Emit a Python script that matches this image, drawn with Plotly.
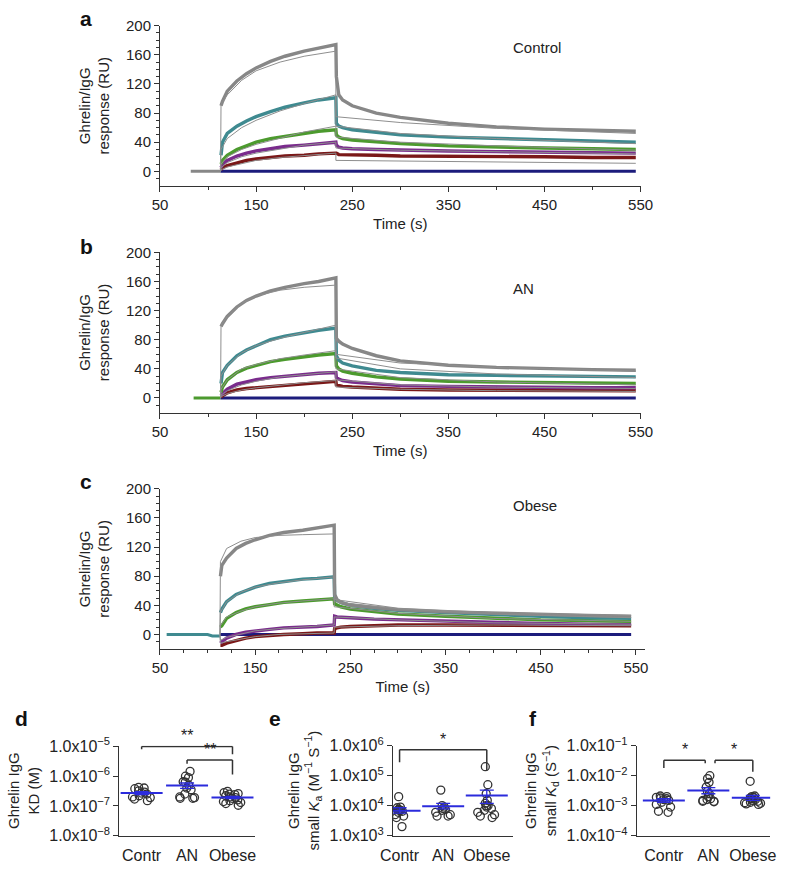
import math
import plotly.graph_objects as go

# ---------------- sensorgram data ----------------
T_ASSOC = [113.5, 115, 120, 130, 140, 150, 165, 180, 200, 215, 233]
T_DISS = [233.5, 236, 240, 250, 275, 300, 350, 400, 450, 500, 545]
T_FIT_ASSOC = [113, 113.5, 120, 135, 150, 175, 200, 233]
T_FIT_DISS = [233, 300, 400, 545]
T_NAVY = [113, 545]
NAVY_V = [0, 0]

# panel a: Control
A_BASE_T = [82, 113]
A_BASE_V = [0, 0]
A_GRAY = [90, 96, 110, 124, 134, 142, 151, 158, 165, 169, 174]
A_GRAY_D = [130, 105, 98, 90, 80, 74, 66, 61, 58, 56, 55]
A_TEAL = [22, 40, 52, 62, 69, 75, 82, 88, 94, 98, 101]
A_TEAL_D = [66, 62, 60, 57, 53, 50, 47, 45, 43, 41, 40]
A_GREEN = [10, 15, 22, 30, 35, 40, 45, 48, 52, 55, 57]
A_GREEN_D = [50, 47, 45, 43, 40, 38, 35, 33, 32, 31, 30]
A_PURPLE = [5, 10, 15, 21, 25, 28, 31, 34, 36, 38, 40]
A_PURPLE_D = [36, 33, 32, 31, 30, 29, 28, 27, 26, 25, 25]
A_MAROON = [2, 5, 8, 12, 15, 17, 19, 21, 22, 24, 25]
A_MAROON_D = [25, 23, 23, 22, 22, 21, 21, 20, 20, 19, 19]
A_FIT_GRAY = [0, 92, 105, 125, 138, 150, 158, 165]
A_FIT_GRAY_D = [75, 67, 59, 52]
A_FIT_TEAL = [0, 30, 45, 60, 70, 83, 93, 105]
A_FIT_TEAL_D = [62, 52, 45, 38]
A_FIT_GREEN = [0, 10, 20, 30, 37, 46, 54, 62]
A_FIT_GREEN_D = [47, 40, 35, 29]
A_FIT_PURPLE = [0, 5, 12, 20, 25, 31, 36, 40]
A_FIT_PURPLE_D = [32, 29, 27, 24]
A_FIT_MAROON = [0, 2, 6, 11, 15, 19, 22, 25]
A_FIT_MAROON_D = [15, 14, 12.5, 11]

# panel b: AN
B_BASE_T = [85, 113]
B_BASE_V = [0, 0]
B_GRAY = [98, 102, 112, 125, 134, 140, 147, 152, 157, 160, 165]
B_GRAY_D = [82, 78, 74, 68, 58, 51, 45, 42, 40, 39, 38]
B_TEAL = [20, 35, 45, 58, 66, 72, 80, 85, 90, 93, 96]
B_TEAL_D = [58, 52, 48, 44, 38, 35, 32, 31, 30, 29, 29]
B_GREEN = [8, 15, 25, 35, 41, 45, 50, 53, 57, 59, 61]
B_GREEN_D = [44, 40, 37, 34, 29, 26, 23, 22, 21, 20, 20]
B_PURPLE = [3, 6, 12, 19, 22, 25, 28, 30, 32, 34, 35]
B_PURPLE_D = [28, 26, 24, 22, 19, 17, 16, 15, 14, 14, 14]
B_MAROON = [1, 3, 7, 11, 13, 14, 16, 18, 20, 21, 23]
B_MAROON_D = [18, 17, 16, 15, 13, 12, 11, 11, 10, 10, 10]
B_FIT_GRAY = [0, 100, 112, 130, 140, 148, 152, 155]
B_FIT_GRAY_D = [60, 48, 42, 37]
B_FIT_TEAL = [0, 30, 45, 62, 72, 82, 90, 100]
B_FIT_TEAL_D = [55, 40, 33, 28]
B_FIT_GREEN = [0, 12, 25, 40, 46, 54, 59, 65]
B_FIT_GREEN_D = [40, 28, 22, 18]
B_FIT_PURPLE = [0, 4, 10, 18, 23, 29, 32, 36]
B_FIT_PURPLE_D = [25, 18, 15, 13]
B_FIT_MAROON = [0, 2, 6, 11, 14, 18, 21, 24]
B_FIT_MAROON_D = [15, 12, 10, 9]

# panel c: Obese
C_BASE_T = [57, 100, 105, 113]
C_BASE_V = [0, 0, -2, -2]
C_GRAY = [80, 95, 105, 118, 125, 130, 136, 140, 143, 146, 150]
C_GRAY_D = [55, 48, 44, 40, 37, 34, 31, 29, 27, 26, 25]
C_TEAL = [30, 35, 45, 55, 60, 65, 70, 73, 76, 77, 79]
C_TEAL_D = [52, 47, 44, 40, 36, 33, 30, 27, 25, 23, 22]
C_GREEN = [10, 12, 22, 30, 35, 38, 41, 44, 46, 47, 49]
C_GREEN_D = [42, 40, 38, 35, 31, 28, 25, 22, 20, 19, 18]
C_PURPLE = [-12, -10, -5, 0, 3, 5, 7, 9, 10, 11, 13]
C_PURPLE_D = [25, 24, 24, 23, 21, 20, 18, 16, 15, 14, 14]
C_MAROON = [-15, -15, -12, -8, -5, -3, -1, 0, 1, 2, 2]
C_MAROON_D = [8, 9, 10, 11, 12, 13, 13, 13, 13, 12, 12]
C_FIT_GRAY = [0, 100, 118, 128, 133, 136, 137, 138]
C_FIT_GRAY_D = [48, 36, 30, 26]
C_FIT_TEAL = [0, 30, 45, 58, 65, 71, 75, 79]
C_FIT_TEAL_D = [45, 35, 28, 23]
C_FIT_GREEN = [0, 12, 24, 32, 38, 43, 46, 49]
C_FIT_GREEN_D = [38, 29, 22, 18]
C_FIT_PURPLE = [0, -8, -4, 1, 5, 8, 10, 13]
C_FIT_PURPLE_D = [24, 20, 16, 14]
C_FIT_MAROON = [0, -12, -10, -6, -3, 0, 1, 2]
C_FIT_MAROON_D = [10, 12, 13, 12]

X_TICKS = [50, 150, 250, 350, 450, 550]
X_MINOR_AB = [100, 200, 300, 400, 500]
X_MINOR_C = [75, 100, 125, 175, 200, 225, 275, 300, 325, 375, 400, 425, 475, 500, 525]
X_RANGES = [[50, 550], [50, 550], [50, 560]]
Y_TICKS = [0, 40, 80, 120, 160, 200]
Y_MINOR = [-10, 10, 20, 30, 50, 60, 70, 90, 100, 110, 130, 140, 150, 170, 180, 190]
GROUP_LABELS = ["Control", "AN", "Obese"]
GROUP_LABEL_T = [442, 428, 444]
GROUP_LABEL_V = [170, 151, 177]

# ---------------- scatter data ----------------
CATS = ["Contr", "AN", "Obese"]
D_CONTR = [4.2e-7, 4.0e-7, 3.8e-7, 3.2e-7, 2.9e-7, 2.7e-7, 2.5e-7, 2.2e-7, 2.0e-7, 1.9e-7, 1.7e-7, 1.5e-7]
D_AN = [1.45e-6, 1.0e-6, 9.0e-7, 6.5e-7, 6.3e-7, 5.0e-7, 4.0e-7, 3.5e-7, 2.5e-7, 2.0e-7, 1.9e-7, 1.8e-7, 1.8e-7]
D_OBESE = [3.1e-7, 2.8e-7, 2.6e-7, 2.5e-7, 2.4e-7, 2.2e-7, 2.0e-7, 1.9e-7, 1.8e-7, 1.6e-7, 1.5e-7, 1.4e-7, 1.3e-7, 1.2e-7, 1.05e-7]
D_MEAN = [2.7e-7, 4.9e-7, 1.9e-7]
D_SEM_HI = [3.0e-7, 5.9e-7, 2.1e-7]
D_SEM_LO = [2.4e-7, 3.9e-7, 1.75e-7]

E_CONTR = [2.0e4, 9e3, 8.5e3, 7.5e3, 7e3, 7e3, 6.5e3, 6e3, 5e3, 4.5e3, 4e3, 2.0e3]
E_AN = [3.3e4, 1.0e4, 9e3, 8e3, 7.5e3, 7e3, 6e3, 5e3, 4.5e3, 4.5e3]
E_OBESE = [2.0e5, 5e4, 2.5e4, 1.5e4, 1.2e4, 1.0e4, 1.0e4, 9e3, 8e3, 7e3, 6e3, 5e3, 4.5e3, 4e3]
E_MEAN = [6.8e3, 9.5e3, 2.2e4]
E_SEM_HI = [8.5e3, 1.2e4, 3.3e4]
E_SEM_LO = [5.6e3, 7.8e3, 1.2e4]

F_CONTR = [2.1e-3, 2.0e-3, 1.9e-3, 1.8e-3, 1.7e-3, 1.6e-3, 1.5e-3, 1.3e-3, 1.1e-3, 0.9e-3, 0.65e-3, 0.6e-3]
F_AN = [1.0e-2, 8e-3, 6e-3, 4.2e-3, 3e-3, 2.5e-3, 2.0e-3, 1.7e-3, 1.6e-3, 1.5e-3, 1.4e-3, 1.4e-3, 1.35e-3]
F_OBESE = [6.5e-3, 2.1e-3, 2.0e-3, 1.9e-3, 1.8e-3, 1.7e-3, 1.6e-3, 1.5e-3, 1.4e-3, 1.3e-3, 1.25e-3, 1.2e-3, 1.15e-3, 1.1e-3]
F_MEAN = [1.5e-3, 3.2e-3, 1.85e-3]
F_SEM_HI = [1.7e-3, 4.0e-3, 2.2e-3]
F_SEM_LO = [1.3e-3, 2.5e-3, 1.5e-3]

D_TICKS = [1e-8, 1e-7, 1e-6, 1e-5]
D_TICKTEXT = ["1.0x10<sup>\u22128</sup>", "1.0x10<sup>\u22127</sup>", "1.0x10<sup>\u22126</sup>", "1.0x10<sup>\u22125</sup>"]
E_TICKS = [1e3, 1e4, 1e5, 1e6]
E_TICKTEXT = ["1.0x10<sup>3</sup>", "1.0x10<sup>4</sup>", "1.0x10<sup>5</sup>", "1.0x10<sup>6</sup>"]
F_TICKS = [1e-4, 1e-3, 1e-2, 1e-1]
F_TICKTEXT = ["1.0x10<sup>\u22124</sup>", "1.0x10<sup>\u22123</sup>", "1.0x10<sup>\u22122</sup>", "1.0x10<sup>\u22121</sup>"]

# significance brackets: (left cat idx, right cat idx, top, left leg end, right leg end, stars)
D_BRACKETS = [(0, 2, 1e-5, 8e-6, 5.5e-6, "**"), (1, 2, 3.5e-6, 2.6e-6, 1.15e-6, "**")]
E_BRACKETS = [(0, 2, 7.4e5, 2.8e5, 1.45e5, "*")]
F_BRACKETS = [(0, 0.93, 3.3e-2, 1.8e-2, 2.6e-2, "*"), (1.15, 2, 3.3e-2, 2.6e-2, 1.35e-2, "*")]

# ---------------- style ----------------
FONT = "Liberation Sans, Arial, Helvetica, sans-serif"
INK = "#222222"
AXC = "#333333"
COL_GRAY = "#878787"
COL_TEAL = "#3f8a90"
COL_GREEN = "#4c9a2e"
COL_PURPLE = "#7a2c8c"
COL_MAROON = "#7a1818"
COL_NAVY = "#1c1c7c"
COL_FIT = "#8e8e8e"
BLUE = "#2b2bdc"

W, H = 788, 871
TOP_X = [[152 / W, 649 / W], [152 / W, 649 / W], [152 / W, 654 / W]]
TOP_Y = [[1 - 179 / H, 1 - 15 / H], [1 - 411 / H, 1 - 247 / H], [1 - 653 / H, 1 - 489 / H]]
BOT_Y = [1 - 844 / H, 1 - 752 / H]
BOT_X = [[110 / W, 250 / W], [393 / W, 517 / W], [645 / W, 783 / W]]
BOT_XRANGE = [[-0.49, 2.49], [-0.15, 2.6], [-0.61, 2.39]]

fig = go.Figure()

panels = [
    (A_BASE_T, A_BASE_V, COL_GRAY,
     [(COL_GRAY, A_GRAY, A_GRAY_D), (COL_TEAL, A_TEAL, A_TEAL_D), (COL_GREEN, A_GREEN, A_GREEN_D),
      (COL_PURPLE, A_PURPLE, A_PURPLE_D), (COL_MAROON, A_MAROON, A_MAROON_D)],
     [(A_FIT_GRAY, A_FIT_GRAY_D), (A_FIT_TEAL, A_FIT_TEAL_D), (A_FIT_GREEN, A_FIT_GREEN_D),
      (A_FIT_PURPLE, A_FIT_PURPLE_D), (A_FIT_MAROON, A_FIT_MAROON_D)], X_MINOR_AB),
    (B_BASE_T, B_BASE_V, COL_GREEN,
     [(COL_GRAY, B_GRAY, B_GRAY_D), (COL_TEAL, B_TEAL, B_TEAL_D), (COL_GREEN, B_GREEN, B_GREEN_D),
      (COL_PURPLE, B_PURPLE, B_PURPLE_D), (COL_MAROON, B_MAROON, B_MAROON_D)],
     [(B_FIT_GRAY, B_FIT_GRAY_D), (B_FIT_TEAL, B_FIT_TEAL_D), (B_FIT_GREEN, B_FIT_GREEN_D),
      (B_FIT_PURPLE, B_FIT_PURPLE_D), (B_FIT_MAROON, B_FIT_MAROON_D)], X_MINOR_AB),
    (C_BASE_T, C_BASE_V, COL_TEAL,
     [(COL_GRAY, C_GRAY, C_GRAY_D), (COL_TEAL, C_TEAL, C_TEAL_D), (COL_GREEN, C_GREEN, C_GREEN_D),
      (COL_PURPLE, C_PURPLE, C_PURPLE_D), (COL_MAROON, C_MAROON, C_MAROON_D)],
     [(C_FIT_GRAY, C_FIT_GRAY_D), (C_FIT_TEAL, C_FIT_TEAL_D), (C_FIT_GREEN, C_FIT_GREEN_D),
      (C_FIT_PURPLE, C_FIT_PURPLE_D), (C_FIT_MAROON, C_FIT_MAROON_D)], X_MINOR_C),
]

layout = {}
annotations = []
shapes = []

for i, (bt, bv, bc, series, fits, xminor) in enumerate(panels):
    s = "" if i == 0 else str(i + 1)
    xa, ya = "x" + s, "y" + s
    fig.add_trace(go.Scatter(x=bt, y=bv, mode="lines", line=dict(color=bc, width=3),
                             xaxis=xa, yaxis=ya, hoverinfo="skip"))
    fig.add_trace(go.Scatter(x=T_NAVY, y=NAVY_V, mode="lines", line=dict(color=COL_NAVY, width=3),
                             xaxis=xa, yaxis=ya, hoverinfo="skip"))
    for col, va, vd in series[::-1]:
        fig.add_trace(go.Scatter(x=T_ASSOC + T_DISS, y=va + vd, mode="lines",
                                 line=dict(color=col, width=3.4), xaxis=xa, yaxis=ya, hoverinfo="skip"))
    for fa, fd in fits:
        fig.add_trace(go.Scatter(x=T_FIT_ASSOC + T_FIT_DISS, y=fa + fd, mode="lines",
                                 line=dict(color=COL_FIT, width=1), xaxis=xa, yaxis=ya, hoverinfo="skip"))
    layout["xaxis" + s] = dict(
        domain=TOP_X[i], anchor=ya, range=X_RANGES[i], tickvals=X_TICKS, ticks="outside", ticklen=5,
        tickcolor=AXC, showline=True, linecolor=AXC, linewidth=1, showgrid=False, zeroline=False,
        minor=dict(tickvals=xminor, ticks="outside", ticklen=3, tickcolor=AXC, showgrid=False),
        tickfont=dict(family=FONT, size=15, color=INK),
        title=dict(text="Time (s)", standoff=6, font=dict(family=FONT, size=15, color=INK)))
    layout["yaxis" + s] = dict(
        domain=TOP_Y[i], anchor=xa, range=[-20, 200], tickvals=Y_TICKS, ticks="outside", ticklen=5,
        tickcolor=AXC, showline=True, linecolor=AXC, linewidth=1, showgrid=False, zeroline=False,
        minor=dict(tickvals=Y_MINOR, ticks="outside", ticklen=3, tickcolor=AXC, showgrid=False),
        tickfont=dict(family=FONT, size=15, color=INK),
        title=dict(text="Ghrelin/IgG<br>response (RU)", standoff=12, font=dict(family=FONT, size=15, color=INK)))
    annotations.append(dict(x=GROUP_LABEL_T[i], y=GROUP_LABEL_V[i], xref=xa, yref=ya, text=GROUP_LABELS[i],
                            showarrow=False, font=dict(family=FONT, size=15, color=INK)))

bottom = [
    ([D_CONTR, D_AN, D_OBESE], D_MEAN, D_SEM_HI, D_SEM_LO, D_TICKS, D_TICKTEXT, [-8, -4.975],
     "Ghrelin IgG<br>KD (M)", D_BRACKETS, [1.0, 1.0, 1.0]),
    ([E_CONTR, E_AN, E_OBESE], E_MEAN, E_SEM_HI, E_SEM_LO, E_TICKS, E_TICKTEXT, [3, 6],
     "Ghrelin IgG<br>small <i>K</i><sub>a</sub> (M<sup>\u22121</sup> S<sup>\u22121</sup>)", E_BRACKETS, [0.5, 0.9, 1.0]),
    ([F_CONTR, F_AN, F_OBESE], F_MEAN, F_SEM_HI, F_SEM_LO, F_TICKS, F_TICKTEXT, [-4, -1],
     "Ghrelin IgG<br>small <i>K</i><sub>d</sub> (S<sup>\u22121</sup>)", F_BRACKETS, [1.0, 1.0, 1.0]),
]

for j, (groups, mean, hi, lo, tv, tt, yr, ytitle, brackets, jit) in enumerate(bottom):
    n = j + 4
    xa, ya = "x%d" % n, "y%d" % n
    for k, vals in enumerate(groups):
        fig.add_trace(go.Box(
            x=[CATS[k]] * len(vals), y=vals, xaxis=xa, yaxis=ya, boxpoints="all", jitter=jit[k],
            pointpos=0, fillcolor="rgba(0,0,0,0)", line=dict(color="rgba(0,0,0,0)", width=0),
            whiskerwidth=0, marker=dict(symbol="circle-open", size=8, color="#333333", line=dict(width=1.3)),
            hoverinfo="skip"))
    fig.add_trace(go.Scatter(
        x=CATS, y=mean, xaxis=xa, yaxis=ya, mode="markers",
        marker=dict(symbol="line-ew-open", size=30, color=BLUE, line=dict(width=2, color=BLUE)),
        error_y=dict(type="data", symmetric=False, array=[h - m for h, m in zip(hi, mean)],
                     arrayminus=[m - l for m, l in zip(mean, lo)], color=BLUE, thickness=1.3, width=7),
        hoverinfo="skip"))
    layout["xaxis%d" % n] = dict(
        domain=BOT_X[j], anchor=ya, type="category", categoryorder="array", categoryarray=CATS,
        range=BOT_XRANGE[j], showline=True, linecolor=AXC, linewidth=1.2, ticks="", showgrid=False,
        zeroline=False, ticklabelstandoff=5, tickfont=dict(family=FONT, size=16, color=INK))
    layout["yaxis%d" % n] = dict(
        domain=BOT_Y, anchor=xa, type="log", range=yr, tickvals=tv, ticktext=tt, ticks="outside",
        ticklen=5, tickcolor=AXC, showline=True, linecolor=AXC, linewidth=1.2, showgrid=False,
        zeroline=False, tickfont=dict(family=FONT, size=16, color=INK),
        title=dict(text=ytitle, standoff=6, font=dict(family=FONT, size=15, color=INK)))
    for (xl, xr, yt, yl, yrr, star) in brackets:
        for (x0, y0, x1, y1) in [(xl, yl, xl, yt), (xl, yt, xr, yt), (xr, yt, xr, yrr)]:
            shapes.append(dict(type="line", xref=xa, yref=ya, x0=x0, y0=y0, x1=x1, y1=y1,
                               line=dict(color=AXC, width=1.5)))
        annotations.append(dict(x=(xl + xr) / 2, y=math.log10(yt), xref=xa, yref=ya, text=star,
                                showarrow=False, yanchor="bottom", yshift=0,
                                font=dict(family=FONT, size=16, color=INK)))

# panel letters
for letter, px, py in [("a", 76, 8), ("b", 76, 241), ("c", 76, 482), ("d", 9, 724), ("e", 271, 724), ("f", 538, 724)]:
    annotations.append(dict(x=px / W, y=1 - py / H, xref="paper", yref="paper", text="<b>%s</b>" % letter,
                            showarrow=False, xanchor="center", yanchor="middle",
                            font=dict(family=FONT, size=21, color="#111111")))

layout.update(dict(width=W, height=H, margin=dict(l=0, r=0, t=0, b=0), showlegend=False,
                   plot_bgcolor="white", paper_bgcolor="white", annotations=annotations, shapes=shapes))
fig.update_layout(**layout)

fig.write_html("out.html", config={"displayModeBar": False},
               post_script="document.body.style.margin='0px';")
